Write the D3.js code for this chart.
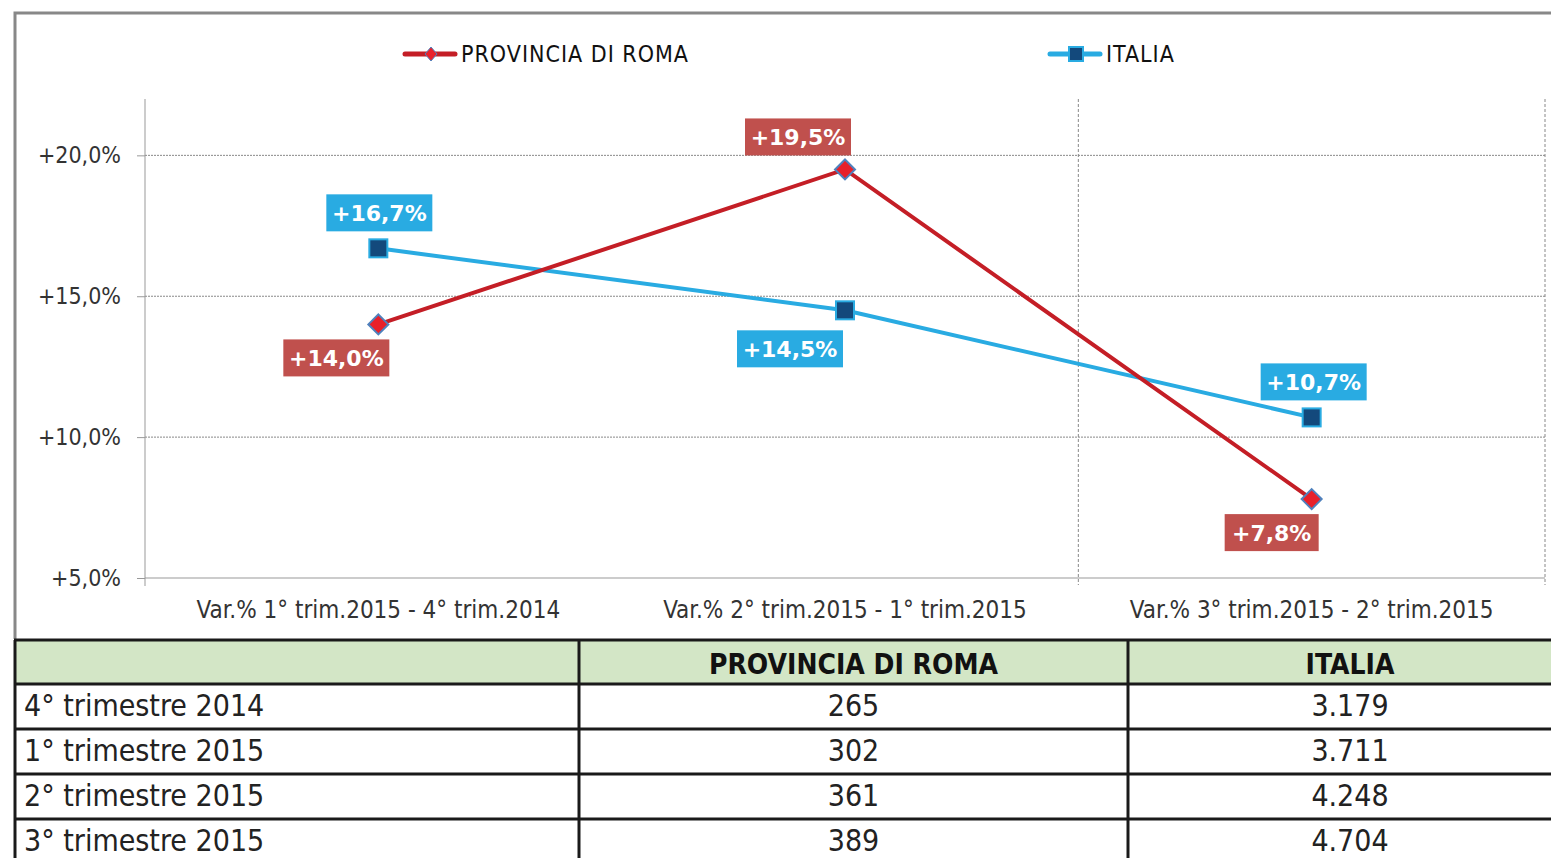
<!DOCTYPE html>
<html>
<head>
<meta charset="utf-8">
<script src="https://cdn.jsdelivr.net/npm/d3@7"></script>
<style>
  body { margin: 0; background: #fff; }
  text { font-family: "Liberation Sans Narrow", "DejaVu Sans Condensed", sans-serif; }
</style>
</head>
<body>
<div id="container"></div>
<script>
// data
const categories = ["Var.% 1° trim.2015 - 4° trim.2014", "Var.% 2° trim.2015 - 1° trim.2015", "Var.% 3° trim.2015 - 2° trim.2015"]
const seriesNames = ["PROVINCIA DI ROMA", "ITALIA"]
const romaValues = [14.0, 19.5, 7.8]
const italiaValues = [16.7, 14.5, 10.7]
const yTicks = [5, 10, 15, 20]
const tableRows = ["4° trimestre 2014", "1° trimestre 2015", "2° trimestre 2015", "3° trimestre 2015"]
const romaCounts = ["265", "302", "361", "389"]
const italiaCounts = ["3.179", "3.711", "4.248", "4.704"]

const w = 1551
const h = 858
const red = "#c41e26"
const blue = "#29abe2"
const fmt = v => "+" + d3.format(".1f")(v).replace(".", ",") + "%"

const svg = d3.select("#container")
    .append("svg")
    .attr("width", w)
    .attr("height", h)

// outer frame of the chart
svg.append("path")
    .attr("d", "M15,639 V13 H1551")
    .attr("fill", "none")
    .attr("stroke", "#888")
    .attr("stroke-width", 3)

const xScale = d3.scaleBand()
    .domain(categories)
    .range([145, 1545])
const yScale = d3.scaleLinear()
    .domain([5, 22])
    .range([578, 99])

// horizontal gridlines
svg.append("g")
    .selectAll("line")
    .data(yTicks.filter(t => t > 5))
    .enter()
    .append("line")
    .attr("x1", 145).attr("x2", 1545)
    .attr("y1", d => yScale(d)).attr("y2", d => yScale(d))
    .attr("stroke", "#888")
    .attr("stroke-dasharray", "2,1")

// vertical gridlines (only the ones visible in the original: right of 2nd and 3rd band)
svg.append("g")
    .selectAll("line")
    .data(categories.slice(1))
    .enter()
    .append("line")
    .attr("x1", d => xScale(d) + xScale.bandwidth())
    .attr("x2", d => xScale(d) + xScale.bandwidth())
    .attr("y1", 99).attr("y2", 585)
    .attr("stroke", "#888")
    .attr("stroke-dasharray", "3,2")

// y axis
const yAxis = d3.axisLeft(yScale)
    .tickValues(yTicks)
    .tickSize(8)
    .tickFormat(fmt)
const gy = svg.append("g")
    .attr("transform", "translate(145,0)")
    .call(yAxis)
gy.select(".domain").attr("stroke", "#999").attr("d", "M0,99V586")
gy.selectAll(".tick line").attr("stroke", "#999")
gy.selectAll(".tick text")
    .attr("x", -24)
    .attr("font-size", 23)
    .attr("fill", "#333")
    .style("font-family", "'Liberation Sans Narrow', 'DejaVu Sans Condensed', sans-serif")

// x axis baseline + labels
svg.append("line")
    .attr("x1", 145).attr("x2", 1545)
    .attr("y1", 578).attr("y2", 578)
    .attr("stroke", "#999")
svg.append("g")
    .selectAll("text")
    .data(categories)
    .enter()
    .append("text")
    .attr("x", d => xScale(d) + xScale.bandwidth() / 2)
    .attr("y", 618)
    .attr("text-anchor", "middle")
    .attr("font-size", 24)
    .attr("fill", "#333")
    .text(d => d)

const cx = d => xScale(d) + xScale.bandwidth() / 2
const line = d3.line()
    .x((d, i) => cx(categories[i]))
    .y(d => yScale(d))

svg.append("path")
    .datum(italiaValues)
    .attr("d", line)
    .attr("fill", "none")
    .attr("stroke", blue)
    .attr("stroke-width", 4)
svg.append("path")
    .datum(romaValues)
    .attr("d", line)
    .attr("fill", "none")
    .attr("stroke", red)
    .attr("stroke-width", 4)

const diamond = "M0,-10L10,0L0,10L-10,0Z"

svg.append("g")
    .selectAll("rect")
    .data(italiaValues)
    .enter()
    .append("rect")
    .attr("x", (d, i) => cx(categories[i]) - 9)
    .attr("y", d => yScale(d) - 9)
    .attr("width", 18).attr("height", 18)
    .attr("fill", "#13497c")
    .attr("stroke", blue)
    .attr("stroke-width", 2)

svg.append("g")
    .selectAll("path")
    .data(romaValues)
    .enter()
    .append("path")
    .attr("d", diamond)
    .attr("transform", (d, i) => `translate(${cx(categories[i])},${yScale(d)})`)
    .attr("fill", "#e8202a")
    .attr("stroke", "#4f81bd")
    .attr("stroke-width", 2)

// data labels: box center offset from the point
const romaLabelOffset = [[-42, 34], [-47, -32], [-40, 34]]
const italiaLabelOffset = [[1, -35], [-55, 39], [2, -35]]

function labels(values, offsets, fill) {
    const g = svg.append("g")
        .selectAll("g")
        .data(values)
        .enter()
        .append("g")
        .attr("transform", (d, i) => `translate(${cx(categories[i]) + offsets[i][0]},${yScale(d) + offsets[i][1]})`)
    g.append("rect")
        .attr("x", d => d >= 10 ? -53 : -47)
        .attr("y", -19)
        .attr("width", d => d >= 10 ? 106 : 94)
        .attr("height", 37)
        .attr("fill", fill)
    g.append("text")
        .attr("text-anchor", "middle")
        .attr("y", 8)
        .attr("font-size", 22)
        .attr("font-weight", "bold")
        .attr("fill", "#fff")
        .style("font-family", "'DejaVu Sans', sans-serif")
        .text(fmt)
}
labels(romaValues, romaLabelOffset, "#c0504d")
labels(italiaValues, italiaLabelOffset, blue)

// legend
const legend = svg.append("g")
const legendX = [405, 1050]
seriesNames.forEach((name, i) => {
    const g = legend.append("g").attr("transform", `translate(${legendX[i]},54)`)
    g.append("line")
        .attr("x1", 0).attr("x2", 50)
        .attr("stroke", i === 0 ? red : blue)
        .attr("stroke-width", 5)
        .attr("stroke-linecap", "round")
    if (i === 0) {
        g.append("path").attr("d", "M0,-7L6,0L0,7L-6,0Z")
            .attr("transform", "translate(26,0)")
            .attr("fill", "#e8202a").attr("stroke", "#4f81bd").attr("stroke-width", 1)
    } else {
        g.append("rect").attr("x", 19).attr("y", -7).attr("width", 14).attr("height", 14)
            .attr("fill", "#13497c").attr("stroke", blue).attr("stroke-width", 2)
    }
    g.append("text")
        .attr("x", 56)
        .attr("y", 8)
        .attr("font-size", 23)
        .attr("fill", "#111")
        .attr("letter-spacing", 1)
        .text(name)
})

// table
const colX = [15, 579, 1128, 1572]
const rowY = [640, 684, 729, 774, 819, 864]
const table = svg.append("g")
table.append("rect")
    .attr("x", colX[0]).attr("y", rowY[0])
    .attr("width", w - colX[0]).attr("height", rowY[1] - rowY[0])
    .attr("fill", "#d3e6c6")

table.selectAll("line.h")
    .data(rowY.slice(0, 5))
    .enter()
    .append("line")
    .attr("x1", colX[0] - 1).attr("x2", w)
    .attr("y1", d => d).attr("y2", d => d)
    .attr("stroke", "#1a1a1a")
    .attr("stroke-width", 3)
table.selectAll("line.v")
    .data(colX.slice(0, 3))
    .enter()
    .append("line")
    .attr("x1", d => d).attr("x2", d => d)
    .attr("y1", rowY[0]).attr("y2", h)
    .attr("stroke", "#1a1a1a")
    .attr("stroke-width", 3)

const headers = ["", seriesNames[0], seriesNames[1]]
headers.forEach((t, i) => {
    table.append("text")
        .attr("x", (colX[i] + colX[i + 1]) / 2)
        .attr("y", 674)
        .attr("text-anchor", "middle")
        .attr("font-size", 28)
        .attr("font-weight", "bold")
        .attr("fill", "#111")
        .text(t)
})
tableRows.forEach((r, j) => {
    const y = rowY[j + 1] + 32
    table.append("text").attr("x", 24).attr("y", y)
        .attr("font-size", 30).attr("fill", "#222").text(r)
    table.append("text").attr("x", (colX[1] + colX[2]) / 2).attr("y", y)
        .attr("text-anchor", "middle").attr("font-size", 30).attr("fill", "#222").text(romaCounts[j])
    table.append("text").attr("x", (colX[2] + colX[3]) / 2).attr("y", y)
        .attr("text-anchor", "middle").attr("font-size", 30).attr("fill", "#222").text(italiaCounts[j])
})
</script>
</body>
</html>
